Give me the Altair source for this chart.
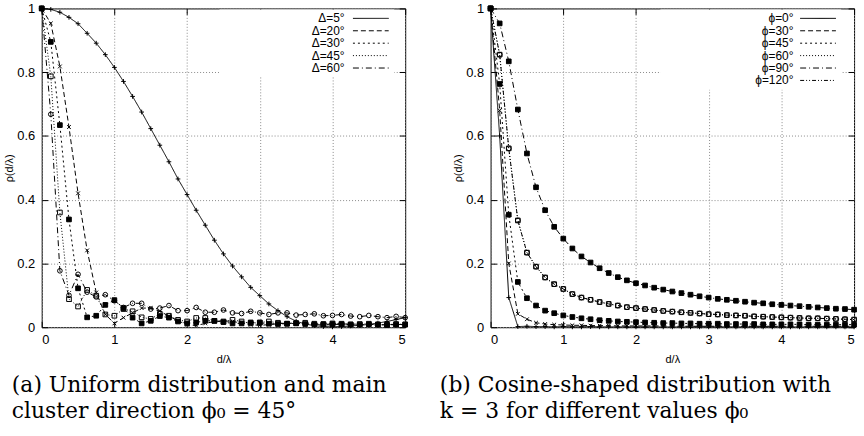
import altair as alt
import pandas as pd

# ---------------- data ----------------
D = [0.0, 0.125, 0.25, 0.375, 0.5, 0.625, 0.75, 0.875, 1.0, 1.125, 1.25, 1.375,
     1.5, 1.625, 1.75, 1.875, 2.0, 2.125, 2.25, 2.375, 2.5, 2.625, 2.75, 2.875,
     3.0, 3.125, 3.25, 3.375, 3.5, 3.625, 3.75, 3.875, 4.0, 4.125, 4.25, 4.375,
     4.5, 4.625, 4.75, 4.875, 5.0]

LEFT_NAMES = ["Δ=5°", "Δ=20°", "Δ=30°", "Δ=45°", "Δ=60°"]
DELTA_5 = [1.0, 0.997, 0.988, 0.972, 0.952, 0.922, 0.891, 0.855, 0.815, 0.771, 0.724, 0.675,
           0.623, 0.571, 0.519, 0.465, 0.416, 0.367, 0.320, 0.273, 0.230, 0.192, 0.158, 0.125,
           0.099, 0.073, 0.052, 0.033, 0.019, 0.010, 0.005, 0.002, 0.001, 0.002, 0.004, 0.006,
           0.009, 0.013, 0.018, 0.024, 0.030]
DELTA_20 = [1.0, 0.953, 0.818, 0.628, 0.420, 0.241, 0.109, 0.040, 0.012, 0.030, 0.045, 0.060,
            0.060, 0.050, 0.035, 0.020, 0.008, 0.005, 0.012, 0.018, 0.020, 0.018, 0.013, 0.008,
            0.006, 0.008, 0.011, 0.013, 0.012, 0.010, 0.008, 0.007, 0.008, 0.010, 0.010, 0.009,
            0.007, 0.007, 0.008, 0.009, 0.008]
DELTA_30 = [1.0, 0.895, 0.634, 0.338, 0.122, 0.031, 0.036, 0.070, 0.085, 0.060, 0.030, 0.012,
            0.020, 0.035, 0.030, 0.018, 0.012, 0.015, 0.020, 0.020, 0.016, 0.012, 0.012, 0.015,
            0.014, 0.011, 0.010, 0.011, 0.012, 0.010, 0.009, 0.009, 0.010, 0.009, 0.008, 0.008,
            0.009, 0.008, 0.007, 0.008, 0.008]
DELTA_45 = [1.0, 0.787, 0.360, 0.088, 0.065, 0.117, 0.099, 0.040, 0.036, 0.057, 0.050, 0.031,
            0.026, 0.042, 0.036, 0.023, 0.018, 0.029, 0.029, 0.020, 0.018, 0.023, 0.018, 0.012,
            0.015, 0.018, 0.014, 0.011, 0.013, 0.014, 0.011, 0.010, 0.012, 0.011, 0.009, 0.010,
            0.011, 0.009, 0.008, 0.010, 0.009]
DELTA_60 = [1.0, 0.668, 0.177, 0.100, 0.166, 0.110, 0.095, 0.102, 0.083, 0.062, 0.075, 0.075,
            0.057, 0.060, 0.068, 0.052, 0.052, 0.062, 0.047, 0.047, 0.054, 0.045, 0.043, 0.050,
            0.045, 0.040, 0.045, 0.045, 0.038, 0.040, 0.042, 0.036, 0.037, 0.040, 0.035, 0.033,
            0.037, 0.033, 0.030, 0.034, 0.030]

RIGHT_NAMES = ["ϕ=0°", "ϕ=30°", "ϕ=45°", "ϕ=60°", "ϕ=90°", "ϕ=120°"]
PHI_0 = [1.0, 0.600, 0.093, 0.002, 0.003, 0.002, 0.002, 0.001, 0.002, 0.001, 0.001, 0.002,
         0.001, 0.001, 0.001, 0.001, 0.001, 0.001, 0.001, 0.001, 0.001, 0.001, 0.001, 0.001,
         0.001, 0.001, 0.001, 0.001, 0.001, 0.001, 0.001, 0.001, 0.001, 0.001, 0.001, 0.001,
         0.001, 0.001, 0.001, 0.001, 0.001]
PHI_30 = [1.0, 0.680, 0.200, 0.042, 0.025, 0.014, 0.010, 0.008, 0.007, 0.006, 0.006, 0.005,
          0.005, 0.005, 0.004, 0.004, 0.004, 0.004, 0.004, 0.004, 0.003, 0.003, 0.003, 0.003,
          0.003, 0.003, 0.003, 0.003, 0.003, 0.003, 0.003, 0.003, 0.003, 0.003, 0.003, 0.003,
          0.003, 0.003, 0.003, 0.003, 0.003]
PHI_45 = [1.0, 0.763, 0.353, 0.142, 0.091, 0.068, 0.052, 0.044, 0.037, 0.032, 0.028, 0.025,
          0.022, 0.020, 0.018, 0.017, 0.016, 0.015, 0.014, 0.013, 0.013, 0.012, 0.012, 0.011,
          0.011, 0.011, 0.010, 0.010, 0.010, 0.010, 0.009, 0.009, 0.009, 0.009, 0.009, 0.008,
          0.008, 0.008, 0.008, 0.008, 0.008]
PHI_60 = [1.0, 0.855, 0.561, 0.335, 0.234, 0.190, 0.156, 0.135, 0.120, 0.104, 0.093, 0.086,
          0.079, 0.073, 0.068, 0.063, 0.060, 0.057, 0.054, 0.051, 0.049, 0.047, 0.045, 0.043,
          0.041, 0.040, 0.038, 0.037, 0.036, 0.034, 0.033, 0.032, 0.031, 0.030, 0.029, 0.028,
          0.028, 0.027, 0.026, 0.025, 0.024]
PHI_90 = [1.0, 0.953, 0.834, 0.683, 0.545, 0.439, 0.367, 0.315, 0.278, 0.247, 0.222, 0.203,
          0.185, 0.170, 0.157, 0.147, 0.138, 0.131, 0.124, 0.118, 0.112, 0.107, 0.102, 0.097,
          0.093, 0.089, 0.086, 0.083, 0.080, 0.077, 0.075, 0.072, 0.070, 0.068, 0.066, 0.064,
          0.062, 0.060, 0.058, 0.057, 0.055]
PHI_120 = [1.0, 0.855, 0.561, 0.335, 0.234, 0.190, 0.156, 0.135, 0.120, 0.104, 0.093, 0.086,
           0.079, 0.073, 0.068, 0.063, 0.060, 0.057, 0.054, 0.051, 0.049, 0.047, 0.045, 0.043,
           0.041, 0.040, 0.038, 0.037, 0.036, 0.034, 0.033, 0.032, 0.031, 0.030, 0.029, 0.028,
           0.028, 0.027, 0.026, 0.025, 0.024]

X_TICKS = [0, 1, 2, 3, 4, 5]
Y_TICKS = [0, 0.2, 0.4, 0.6, 0.8, 1]

CAPTION_A = ["(a) Uniform distribution and main", "cluster direction ϕ₀ = 45°"]
CAPTION_B = ["(b) Cosine-shaped distribution with", "k = 3 for different values ϕ₀"]

# ---------------- styles ----------------
SANS = "Liberation Sans"
SERIF = "DejaVu Serif"

PLUS = "M-1,0L1,0M0,-1L0,1"
TIMES = "M-0.8,-0.8L0.8,0.8M-0.8,0.8L0.8,-0.8"
SAMPLE = "M-12,0L12,0"   # legend line sample (scaled by the symbol size)

LEFT_DASH = [[1, 0], [5, 3], [2, 3], [1, 2], [6, 3, 1, 3]]
LEFT_SHAPE = [PLUS, TIMES, "square", "square", "circle"]
LEFT_FILL = ["black", "transparent", "black", "transparent", "transparent"]

RIGHT_DASH = [[1, 0], [5, 3], [2, 3], [1, 2], [6, 3, 1, 3], [4, 2, 1, 2, 1, 2]]
RIGHT_SHAPE = [PLUS, TIMES, "square", "square", "square", "circle"]
RIGHT_FILL = ["black", "transparent", "black", "transparent", "black", "transparent"]


def panel(names, values, dashes, shapes, fills, lx, soff, loff, caption, cap_dx):
    rows = []
    for name, vals in zip(names, values, strict=True):
        for x, v in zip(D, vals, strict=True):
            rows.append({"d": x, "rho": v, "series": name, "series_b": name})
    df = pd.DataFrame(rows)

    xs = alt.Scale(domain=[0, 5], nice=False, zero=False)
    ys = alt.Scale(domain=[0, 1], nice=False, zero=False)

    common_tick = dict(tickSize=6, tickColor="black", tickWidth=1, domain=False)
    ax_bottom = alt.Axis(orient="bottom", offset=-6, values=X_TICKS, format="d",
                         grid=True, gridColor="#8a8a8a", gridDash=[1, 2], gridWidth=1,
                         labelFont=SANS, labelFontSize=13, labelColor="black",
                         labelPadding=6, title="d/λ", titleFont=SANS, titleFontSize=11,
                         titleFontWeight="normal", titleColor="black", titlePadding=8,
                         **common_tick)
    ax_left = alt.Axis(orient="left", offset=-6, values=Y_TICKS, format="~g",
                       grid=True, gridColor="#8a8a8a", gridDash=[1, 2], gridWidth=1,
                       labelFont=SANS, labelFontSize=13, labelColor="black",
                       labelPadding=7, title="ρ(d/λ)", titleFont=SANS, titleFontSize=11,
                       titleFontWeight="normal", titleColor="black", titlePadding=2,
                       **common_tick)
    ax_top = alt.Axis(orient="top", offset=-6, values=X_TICKS, labels=False, grid=False,
                      title=None, zindex=1, minExtent=0, maxExtent=0, titlePadding=0,
                      **common_tick)
    ax_right = alt.Axis(orient="right", offset=-6, values=Y_TICKS, labels=False, grid=False,
                        title=None, zindex=1, minExtent=0, maxExtent=0, titlePadding=0,
                        **common_tick)

    leg = alt.Legend(orient="none", legendX=lx, legendY=1, title=None,
                     symbolType=SAMPLE, symbolSize=9, symbolStrokeWidth=1,
                     symbolStrokeColor="black", symbolOffset=soff, labelAlign="right",
                     labelOffset={"expr": str(loff)}, labelFont=SANS, labelFontSize=12,
                     labelColor="black", labelLimit=200, padding=3, rowPadding=0.5,
                     fillColor="white", zindex=1)

    lines = alt.Chart(df).mark_line(stroke="black", strokeWidth=1).encode(
        x=alt.X("d:Q", scale=xs, axis=ax_bottom),
        y=alt.Y("rho:Q", scale=ys, axis=ax_left),
        strokeDash=alt.StrokeDash("series:N", scale=alt.Scale(domain=names, range=dashes),
                                  legend=leg),
    )
    points = alt.Chart(df).mark_point(stroke="black", strokeWidth=1, size=22,
                                      opacity=1).encode(
        x=alt.X("d:Q", scale=xs, axis=ax_top),
        y=alt.Y("rho:Q", scale=ys, axis=ax_right),
        shape=alt.Shape("series_b:N", sort=names, scale=alt.Scale(range=shapes),
                        legend=None),
        fill=alt.Fill("series_b:N", sort=names, scale=alt.Scale(range=fills),
                      legend=None),
    )
    return alt.layer(lines, points).resolve_axis(x="independent", y="independent").properties(
        width=366, height=321,
        title=alt.TitleParams(text=caption, orient="bottom", anchor="start", font=SERIF,
                              fontSize=22, fontWeight="normal", color="black",
                              lineHeight=26, offset=10, dx=cap_dx),
    )


left = panel(LEFT_NAMES, [DELTA_5, DELTA_20, DELTA_30, DELTA_45, DELTA_60],
             LEFT_DASH, LEFT_SHAPE, LEFT_FILL, lx=179, soff=143.4, loff=-32.4,
             caption=CAPTION_A, cap_dx=8)
right = panel(RIGHT_NAMES, [PHI_0, PHI_30, PHI_45, PHI_60, PHI_90, PHI_120],
              RIGHT_DASH, RIGHT_SHAPE, RIGHT_FILL, lx=171, soff=149.7, loff=-30.7,
              caption=CAPTION_B, cap_dx=-13)

chart = alt.hconcat(left, right, spacing=29).resolve_scale(
    strokeDash="independent", shape="independent", fill="independent"
).resolve_legend(
    strokeDash="independent", shape="independent", fill="independent"
).properties(
    padding={"left": 3, "top": 0, "right": 5, "bottom": 5}, background="white"
).configure_view(stroke="black", strokeWidth=1)

chart.save("out.html", embed_options={"renderer": "svg", "actions": False})
